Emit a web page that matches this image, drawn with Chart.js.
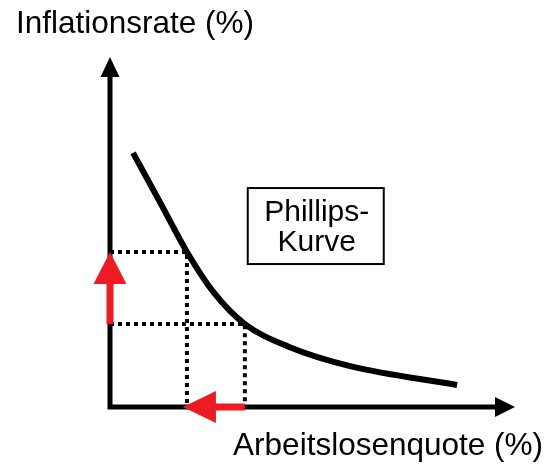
<!DOCTYPE html>
<html>
<head>
<meta charset="utf-8">
<script src="https://cdn.jsdelivr.net/npm/chart.js@4"></script>
<style>
  html, body { margin: 0; padding: 0; background: #fff; }
  canvas { display: block; }
</style>
</head>
<body>
<canvas id="phillips" width="554" height="464"></canvas>
<script>
// Phillips curve (axis units 0..10, no ticks shown)
const curveX = [0.57, 1.23, 1.90, 2.57, 3.33, 4.44, 5.93, 8.57];
const curveY = [7.26, 5.86, 4.43, 3.26, 2.37, 1.71, 1.17, 0.63];
// the two marked points on the curve
const highIdx = 2;
const lowIdx = 4;

const yTitle = 'Inflationsrate (%)';
const xTitle = 'Arbeitslosenquote (%)';
const curveLabel = ['Phillips-', 'Kurve'];

const RED = '#ed1c24';
const FONT = '"Liberation Sans", Arial, sans-serif';

const curvePoints = curveX.map((x, i) => ({ x: x, y: curveY[i] }));
// dotted guides: axis -> point on curve -> axis
function guide(i) {
    return [
        { x: 0, y: curveY[i] },
        { x: curveX[i], y: curveY[i] },
        { x: curveX[i], y: 0 }
    ];
}

function arrowHead(ctx, tipX, tipY, dx, dy, len, half) {
    // dx,dy = unit direction the arrow points to
    const bx = tipX - dx * len, by = tipY - dy * len;
    ctx.beginPath();
    ctx.moveTo(tipX, tipY);
    ctx.lineTo(bx - dy * half, by + dx * half);
    ctx.lineTo(bx + dy * half, by - dx * half);
    ctx.closePath();
    ctx.fill();
}

const decor = {
    id: 'decor',
    beforeDatasetsDraw(chart) {
        const ctx = chart.ctx;
        const a = chart.chartArea;
        ctx.save();
        // axes with arrow heads
        ctx.strokeStyle = '#000';
        ctx.fillStyle = '#000';
        ctx.lineWidth = 5;
        ctx.lineCap = 'butt';
        ctx.beginPath();
        ctx.moveTo(a.left, a.top + 18);
        ctx.lineTo(a.left, a.bottom + 2.5);
        ctx.moveTo(a.left - 2.5, a.bottom);
        ctx.lineTo(a.right - 18, a.bottom);
        ctx.stroke();
        arrowHead(ctx, a.left, a.top, 0, -1, 20, 9.5);
        arrowHead(ctx, a.right, a.bottom, 1, 0, 20, 10);
        ctx.restore();
    },
    afterDatasetsDraw(chart) {
        const ctx = chart.ctx;
        const a = chart.chartArea;
        const xs = chart.scales.x, ys = chart.scales.y;
        ctx.save();

        // red arrow up the y axis
        const yLow = ys.getPixelForValue(curveY[lowIdx]);
        const yHigh = ys.getPixelForValue(curveY[highIdx]);
        ctx.fillStyle = RED;
        ctx.fillRect(a.left - 3.5, yHigh + 30, 7, yLow - yHigh - 30);
        arrowHead(ctx, a.left, yHigh, 0, -1, 32, 16.5);

        // red arrow left along the x axis
        const xLow = xs.getPixelForValue(curveX[lowIdx]);
        const xHigh = xs.getPixelForValue(curveX[highIdx]) - 4;
        ctx.fillRect(xHigh + 30, a.bottom - 3.5, xLow - xHigh - 30, 7);
        arrowHead(ctx, xHigh, a.bottom, -1, 0, 33, 16);

        // label box
        const cx = xs.getPixelForValue(5.08);
        const cy = ys.getPixelForValue(5.17);
        ctx.fillStyle = '#fff';
        ctx.fillRect(cx - 68, cy - 38, 136, 76);
        ctx.strokeStyle = '#000';
        ctx.lineWidth = 2;
        ctx.strokeRect(cx - 68, cy - 38, 136, 76);
        ctx.fillStyle = '#000';
        ctx.font = '30px ' + FONT;
        ctx.textAlign = 'center';
        ctx.textBaseline = 'alphabetic';
        ctx.fillText(curveLabel[0], cx + 1, cy - 5);
        ctx.fillText(curveLabel[1], cx + 1, cy + 25);

        // axis titles
        ctx.font = '31.5px ' + FONT;
        ctx.textAlign = 'left';
        ctx.fillText(yTitle, 16, 33);
        ctx.textAlign = 'right';
        ctx.fillText(xTitle, 543, 455);
        ctx.restore();
    }
};

new Chart(document.getElementById('phillips'), {
    type: 'scatter',
    data: {
        datasets: [
            {
                // upper dotted guide
                data: guide(highIdx),
                showLine: true,
                borderColor: '#000',
                borderWidth: 4,
                borderDash: [4, 4],
                pointRadius: 0,
                clip: false
            },
            {
                // lower dotted guide
                data: guide(lowIdx),
                showLine: true,
                borderColor: '#000',
                borderWidth: 4,
                borderDash: [4, 4],
                pointRadius: 0,
                clip: false
            },
            {
                label: 'Phillips-Kurve',
                data: curvePoints,
                showLine: true,
                borderColor: '#000',
                borderWidth: 6,
                cubicInterpolationMode: 'monotone',
                pointRadius: 0,
                clip: false
            }
        ]
    },
    options: {
        responsive: false,
        animation: false,
        layout: {
            padding: { left: 110, right: 39, top: 57, bottom: 57 }
        },
        scales: {
            x: { type: 'linear', min: 0, max: 10, display: false },
            y: { type: 'linear', min: 0, max: 10, display: false }
        },
        plugins: {
            legend: { display: false },
            tooltip: { enabled: false }
        }
    },
    plugins: [decor]
});
</script>
</body>
</html>
